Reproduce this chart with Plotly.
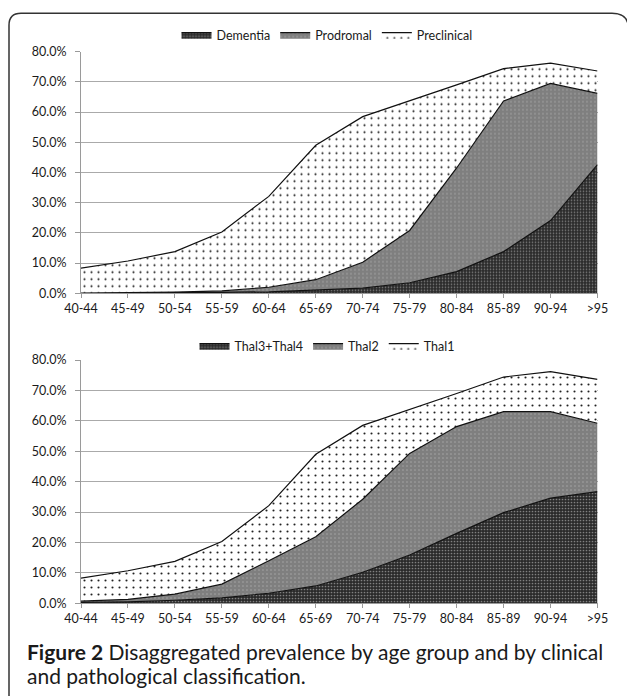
import plotly.graph_objects as go

ages = ["40-44", "45-49", "50-54", "55-59", "60-64", "65-69",
        "70-74", "75-79", "80-84", "85-89", "90-94", ">95"]

# Top chart (clinical classification), individual stacked values in %
dementia = [0.0, 0.05, 0.1, 0.3, 0.5, 1.0, 1.7, 3.5, 7.2, 13.8, 24.1, 42.6]
prodromal = [0.1, 0.15, 0.3, 0.5, 1.5, 3.5, 8.6, 17.3, 34.3, 49.9, 45.4, 23.6]
preclinical = [8.2, 10.5, 13.4, 19.5, 30.1, 44.5, 48.2, 42.9, 27.5, 10.7, 6.7, 7.4]

# Bottom chart (pathological classification), individual stacked values in %
thal34 = [0.3, 0.5, 1.0, 1.8, 3.3, 5.7, 10.2, 15.9, 23.0, 29.8, 34.6, 36.7]
thal2 = [0.4, 0.8, 2.0, 4.5, 10.7, 16.2, 24.0, 33.4, 35.1, 33.2, 28.4, 22.5]
thal1 = [7.6, 9.4, 10.8, 14.0, 18.1, 27.1, 24.3, 14.4, 10.9, 11.4, 13.2, 14.4]

yticks = [0, 10, 20, 30, 40, 50, 60, 70, 80]
yticklabels = ["0.0%", "10.0%", "20.0%", "30.0%", "40.0%",
               "50.0%", "60.0%", "70.0%", "80.0%"]

W, H = 627, 696
def px(x):
    return x / W
def py(y):
    return 1 - y / H

FONT = "Lato"
TXT = "#1a1a1a"
fig = go.Figure()

styles = [
    dict(bg="#2a2a2a", fg="#808080", size=3, sol=0.25),
    dict(bg="#7f7f7f", fg="#a8a8a8", size=4, sol=0.12),
    dict(bg="#ffffff", fg="#222222", size=7, sol=0.07),
]

def add_series(names, series, xa, ya, legend, group):
    for name, vals, st in zip(names, series, styles):
        fig.add_trace(go.Scatter(
            x=ages, y=vals, name=name, mode="lines",
            stackgroup=group, xaxis=xa, yaxis=ya, legend=legend,
            line=dict(color="#111111", width=1.2),
            fillcolor=st["bg"],
            fillpattern=dict(shape=".", bgcolor=st["bg"], fgcolor=st["fg"],
                             size=st["size"], solidity=st["sol"]),
            hoverinfo="skip",
        ))

add_series(["Dementia", "Prodromal", "Preclinical"],
           [dementia, prodromal, preclinical], "x", "y", "legend", "one")
add_series(["Thal3+Thal4", "Thal2", "Thal1"],
           [thal34, thal2, thal1], "x2", "y2", "legend2", "two")

XL, XR = 81, 597.5
axis_x = dict(type="category", categoryorder="array", categoryarray=ages,
              range=[0, 11], domain=[px(XL), px(XR)], automargin=False,
              showgrid=False, showline=True, linecolor="#9a9a9a", linewidth=1,
              ticks="outside", ticklen=4, tickcolor="#9a9a9a",
              tickfont=dict(family=FONT, size=12.5, color=TXT))
axis_y = dict(range=[0, 80], tickmode="array", tickvals=yticks,
              ticktext=yticklabels, automargin=False,
              showgrid=True, gridcolor="#aaaaaa", gridwidth=1,
              showline=True, linecolor="#9a9a9a", linewidth=1,
              ticks="outside", ticklen=5, tickcolor="#9a9a9a",
              ticklabelstandoff=6, zeroline=False,
              tickfont=dict(family=FONT, size=12.5, color=TXT))

legend_common = dict(orientation="h", xanchor="center", yanchor="middle",
                     traceorder="normal", itemwidth=30,
                     font=dict(family=FONT, size=12.5, color=TXT),
                     bgcolor="rgba(0,0,0,0)")

fig.update_layout(
    template="none",
    width=W, height=H, autosize=False,
    margin=dict(l=0, r=0, t=0, b=0, pad=0, autoexpand=False),
    paper_bgcolor="white", plot_bgcolor="white",
    xaxis=dict(axis_x, anchor="y"),
    yaxis=dict(axis_y, anchor="x", domain=[py(293.3), py(51.7)]),
    xaxis2=dict(axis_x, anchor="y2"),
    yaxis2=dict(axis_y, anchor="x2", domain=[py(603.3), py(360)]),
    legend=dict(legend_common, x=px(327), y=py(35)),
    legend2=dict(legend_common, x=px(327), y=py(346)),
    showlegend=True,
)

# Rounded frame around the figure (right and bottom sides run off the image)
r = 12
pts = (f"M {px(612)},{py(13.3)} L {px(9 + r)},{py(13.3)} "
       f"Q {px(9)},{py(13.3)} {px(9)},{py(13.3 + r)} "
       f"L {px(9)},{py(720)}")
fig.add_shape(type="path", path=pts, xref="paper", yref="paper",
              line=dict(color="#333333", width=1.5))
fig.add_shape(type="path",
              path=(f"M {px(612)},{py(13.3)} Q {px(626)},{py(13.3)} "
                    f"{px(628)},{py(24)}"),
              xref="paper", yref="paper",
              line=dict(color="#333333", width=1.5))

fig.add_annotation(
    text="<b>Figure 2</b> Disaggregated prevalence by age group and by clinical",
    xref="paper", yref="paper", x=px(25), y=py(651), xanchor="left",
    yanchor="middle", align="left", showarrow=False,
    font=dict(family=FONT, size=21, color=TXT))
fig.add_annotation(
    text="and pathological classification.",
    xref="paper", yref="paper", x=px(25), y=py(675), xanchor="left",
    yanchor="middle", align="left", showarrow=False,
    font=dict(family=FONT, size=21, color=TXT))

fig.write_html("out.html",
               config={"displayModeBar": False},
               post_script="document.body.style.margin='0';"
                           "document.body.style.overflow='hidden';")
